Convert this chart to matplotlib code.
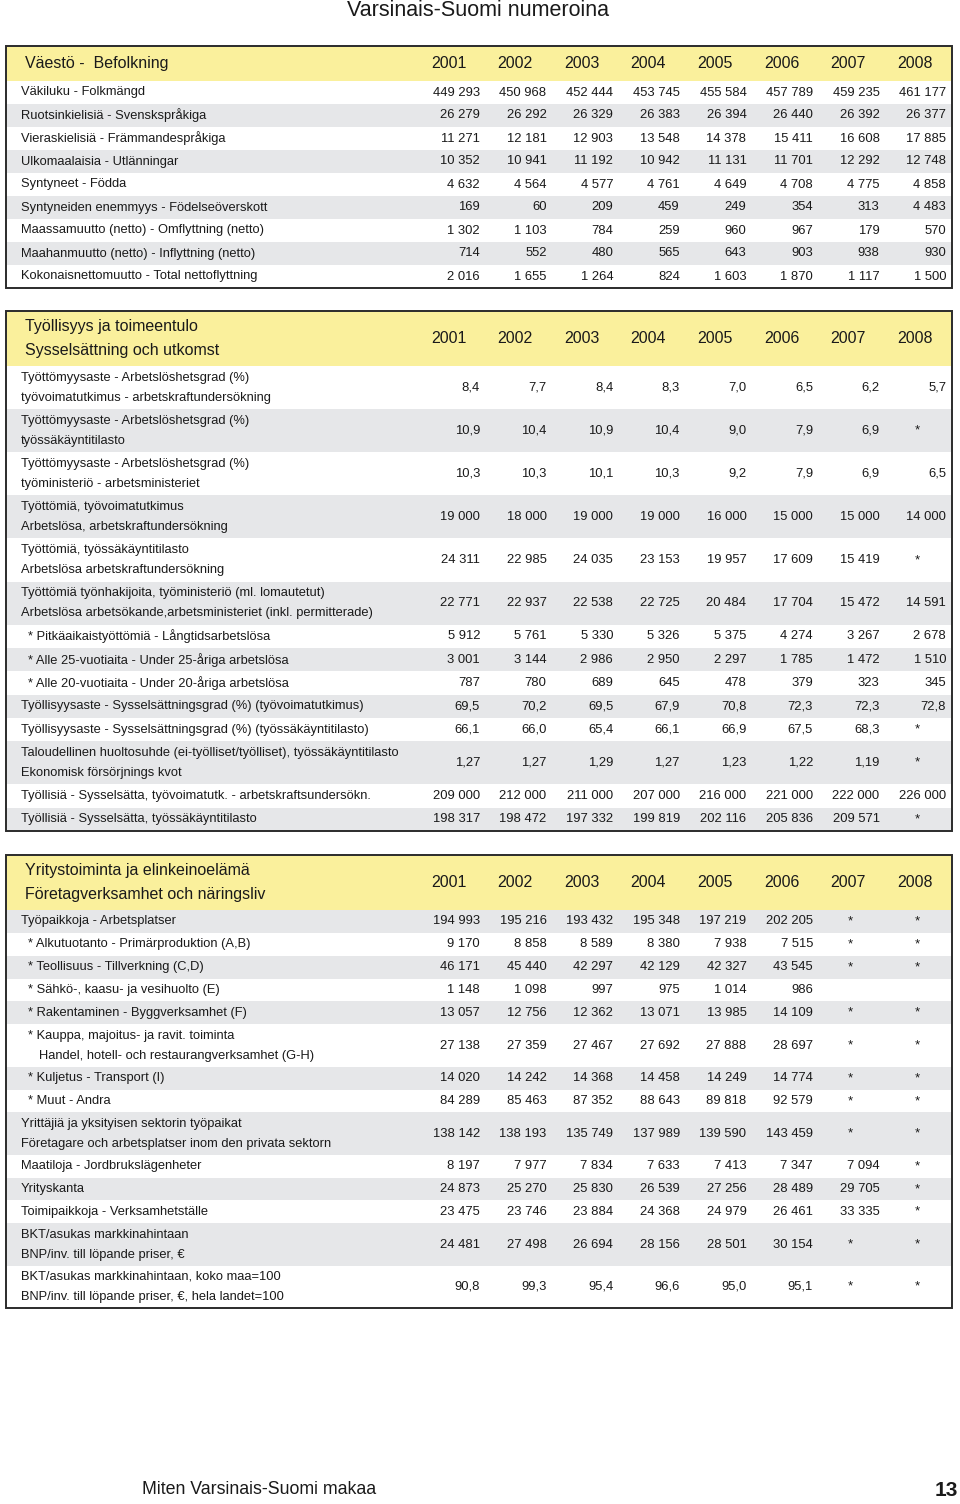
import matplotlib
matplotlib.use("Agg")
import matplotlib.pyplot as plt
from matplotlib.patches import Rectangle

plt.rcParams['font.family'] = ['Liberation Sans Narrow', 'Liberation Sans', 'DejaVu Sans']

years = ["2001", "2002", "2003", "2004", "2005", "2006", "2007", "2008"]

# Väestö - Befolkning
pop_title = "Väestö -  Befolkning"
pop_labels = [
    "Väkiluku - Folkmängd",
    "Ruotsinkielisiä - Svenskspråkiga",
    "Vieraskielisiä - Främmandespråkiga",
    "Ulkomaalaisia - Utlänningar",
    "Syntyneet - Födda",
    "Syntyneiden enemmyys - Födelseöverskott",
    "Maassamuutto (netto) - Omflyttning (netto)",
    "Maahanmuutto (netto) - Inflyttning (netto)",
    "Kokonaisnettomuutto - Total nettoflyttning",
]
pop_values = [
    ["449 293", "450 968", "452 444", "453 745", "455 584", "457 789", "459 235", "461 177"],
    ["26 279", "26 292", "26 329", "26 383", "26 394", "26 440", "26 392", "26 377"],
    ["11 271", "12 181", "12 903", "13 548", "14 378", "15 411", "16 608", "17 885"],
    ["10 352", "10 941", "11 192", "10 942", "11 131", "11 701", "12 292", "12 748"],
    ["4 632", "4 564", "4 577", "4 761", "4 649", "4 708", "4 775", "4 858"],
    ["169", "60", "209", "459", "249", "354", "313", "4 483"],
    ["1 302", "1 103", "784", "259", "960", "967", "179", "570"],
    ["714", "552", "480", "565", "643", "903", "938", "930"],
    ["2 016", "1 655", "1 264", "824", "1 603", "1 870", "1 117", "1 500"],
]

# Työllisyys ja toimeentulo
emp_title = "Työllisyys ja toimeentulo\nSysselsättning och utkomst"
emp_labels = [
    "Työttömyysaste - Arbetslöshetsgrad (%)\ntyövoimatutkimus - arbetskraftundersökning",
    "Työttömyysaste - Arbetslöshetsgrad (%)\ntyössäkäyntitilasto",
    "Työttömyysaste - Arbetslöshetsgrad (%)\ntyöministeriö - arbetsministeriet",
    "Työttömiä, työvoimatutkimus\nArbetslösa, arbetskraftundersökning",
    "Työttömiä, työssäkäyntitilasto\nArbetslösa arbetskraftundersökning",
    "Työttömiä työnhakijoita, työministeriö (ml. lomautetut)\nArbetslösa arbetsökande,arbetsministeriet (inkl. permitterade)",
    "* Pitkäaikaistyöttömiä - Långtidsarbetslösa",
    "* Alle 25-vuotiaita - Under 25-åriga arbetslösa",
    "* Alle 20-vuotiaita - Under 20-åriga arbetslösa",
    "Työllisyysaste - Sysselsättningsgrad (%) (työvoimatutkimus)",
    "Työllisyysaste - Sysselsättningsgrad (%) (työssäkäyntitilasto)",
    "Taloudellinen huoltosuhde (ei-työlliset/työlliset), työssäkäyntitilasto\nEkonomisk försörjnings kvot",
    "Työllisiä - Sysselsätta, työvoimatutk. - arbetskraftsundersökn.",
    "Työllisiä - Sysselsätta, työssäkäyntitilasto",
]
emp_values = [
    ["8,4", "7,7", "8,4", "8,3", "7,0", "6,5", "6,2", "5,7"],
    ["10,9", "10,4", "10,9", "10,4", "9,0", "7,9", "6,9", "*"],
    ["10,3", "10,3", "10,1", "10,3", "9,2", "7,9", "6,9", "6,5"],
    ["19 000", "18 000", "19 000", "19 000", "16 000", "15 000", "15 000", "14 000"],
    ["24 311", "22 985", "24 035", "23 153", "19 957", "17 609", "15 419", "*"],
    ["22 771", "22 937", "22 538", "22 725", "20 484", "17 704", "15 472", "14 591"],
    ["5 912", "5 761", "5 330", "5 326", "5 375", "4 274", "3 267", "2 678"],
    ["3 001", "3 144", "2 986", "2 950", "2 297", "1 785", "1 472", "1 510"],
    ["787", "780", "689", "645", "478", "379", "323", "345"],
    ["69,5", "70,2", "69,5", "67,9", "70,8", "72,3", "72,3", "72,8"],
    ["66,1", "66,0", "65,4", "66,1", "66,9", "67,5", "68,3", "*"],
    ["1,27", "1,27", "1,29", "1,27", "1,23", "1,22", "1,19", "*"],
    ["209 000", "212 000", "211 000", "207 000", "216 000", "221 000", "222 000", "226 000"],
    ["198 317", "198 472", "197 332", "199 819", "202 116", "205 836", "209 571", "*"],
]

# Yritystoiminta ja elinkeinoelämä
bus_title = "Yritystoiminta ja elinkeinoelämä\nFöretagverksamhet och näringsliv"
bus_labels = [
    "Työpaikkoja - Arbetsplatser",
    "* Alkutuotanto - Primärproduktion (A,B)",
    "* Teollisuus - Tillverkning (C,D)",
    "* Sähkö-, kaasu- ja vesihuolto (E)",
    "* Rakentaminen - Byggverksamhet (F)",
    "* Kauppa, majoitus- ja ravit. toiminta\nHandel, hotell- och restaurangverksamhet (G-H)",
    "* Kuljetus - Transport (I)",
    "* Muut - Andra",
    "Yrittäjiä ja yksityisen sektorin työpaikat\nFöretagare och arbetsplatser inom den privata sektorn",
    "Maatiloja - Jordbrukslägenheter",
    "Yrityskanta",
    "Toimipaikkoja - Verksamhetställe",
    "BKT/asukas markkinahintaan\nBNP/inv. till löpande priser, €",
    "BKT/asukas markkinahintaan, koko maa=100\nBNP/inv. till löpande priser, €, hela landet=100",
]
bus_values = [
    ["194 993", "195 216", "193 432", "195 348", "197 219", "202 205", "*", "*"],
    ["9 170", "8 858", "8 589", "8 380", "7 938", "7 515", "*", "*"],
    ["46 171", "45 440", "42 297", "42 129", "42 327", "43 545", "*", "*"],
    ["1 148", "1 098", "997", "975", "1 014", "986", "", ""],
    ["13 057", "12 756", "12 362", "13 071", "13 985", "14 109", "*", "*"],
    ["27 138", "27 359", "27 467", "27 692", "27 888", "28 697", "*", "*"],
    ["14 020", "14 242", "14 368", "14 458", "14 249", "14 774", "*", "*"],
    ["84 289", "85 463", "87 352", "88 643", "89 818", "92 579", "*", "*"],
    ["138 142", "138 193", "135 749", "137 989", "139 590", "143 459", "*", "*"],
    ["8 197", "7 977", "7 834", "7 633", "7 413", "7 347", "7 094", "*"],
    ["24 873", "25 270", "25 830", "26 539", "27 256", "28 489", "29 705", "*"],
    ["23 475", "23 746", "23 884", "24 368", "24 979", "26 461", "33 335", "*"],
    ["24 481", "27 498", "26 694", "28 156", "28 501", "30 154", "*", "*"],
    ["90,8", "99,3", "95,4", "96,6", "95,0", "95,1", "*", "*"],
]

YELLOW = '#faf09c'
GRAY = '#e6e7e9'
EDGE = '#2b2b2b'
TXT = '#1a1a1a'

fig = plt.figure(figsize=(9.6, 15.04), dpi=100)
ax = fig.add_axes([0, 0, 1, 1])
ax.set_xlim(0, 960)
ax.set_ylim(1504, 0)
ax.axis('off')

col_right = [480 + 66.6 * i for i in range(len(years))]


def draw_section(title, labels, values, top, header_h, bottom, first_gray):
    left, right = 6, 952
    ax.add_patch(Rectangle((left, top), right - left, header_h, facecolor=YELLOW, edgecolor='none'))
    lines = title.split('\n')
    if len(lines) == 1:
        ax.text(25, top + header_h / 2, title, fontsize=11.5, va='center', ha='left', color=TXT)
    else:
        ax.text(25, top + header_h / 2 - 11.5, lines[0], fontsize=11.5, va='center', ha='left', color=TXT)
        ax.text(25, top + header_h / 2 + 11.5, lines[1], fontsize=11.5, va='center', ha='left', color=TXT)
    for xr, yr in zip(col_right, years):
        ax.text(xr - 31.5, top + header_h / 2, yr, fontsize=11.5, va='center', ha='center', color=TXT)

    # row heights proportional to number of text lines
    weights = [1.0 if '\n' not in lab else 1.85 for lab in labels]
    unit = (bottom - top - header_h) / sum(weights)
    y = top + header_h
    for i, (lab, vals) in enumerate(zip(labels, values)):
        h = weights[i] * unit
        gray = (i % 2 == 0) == first_gray
        if gray:
            ax.add_patch(Rectangle((left, y), right - left, h, facecolor=GRAY, edgecolor='none'))
        yc = y + h / 2
        parts = lab.split('\n')
        x0 = 28 if lab.startswith('*') else 21
        if len(parts) == 1:
            ax.text(x0, yc, lab, fontsize=9.3, va='center', ha='left', color=TXT)
        else:
            ax.text(x0, yc - 10, parts[0], fontsize=9.3, va='center', ha='left', color=TXT)
            ax.text(x0 + (11 if lab.startswith('*') else 0), yc + 10, parts[1],
                    fontsize=9.3, va='center', ha='left', color=TXT)
        for xr, v in zip(col_right, vals):
            if v == '*':
                ax.text(xr - 29, yc, v, fontsize=9.5, va='center', ha='center', color=TXT)
            elif v:
                ax.text(xr, yc, v, fontsize=9.4, va='center', ha='right', color=TXT)
        y += h
    ax.add_patch(Rectangle((left, top), right - left, bottom - top, facecolor='none',
                           edgecolor=EDGE, linewidth=1.4))


ax.text(478, 11, "Varsinais-Suomi numeroina", fontsize=15.5, ha='center', va='center', color=TXT)

draw_section(pop_title, pop_labels, pop_values, 46, 35, 288, False)
draw_section(emp_title, emp_labels, emp_values, 311, 55, 831, False)
draw_section(bus_title, bus_labels, bus_values, 855, 55, 1308, True)

ax.text(142, 1490, "Miten Varsinais-Suomi makaa", fontsize=12.8, ha='left', va='center', color=TXT)
ax.text(958, 1490, "13", fontsize=15, fontweight='bold', ha='right', va='center', color=TXT)

fig.savefig('out.png', dpi=100)
plt.close(fig)
